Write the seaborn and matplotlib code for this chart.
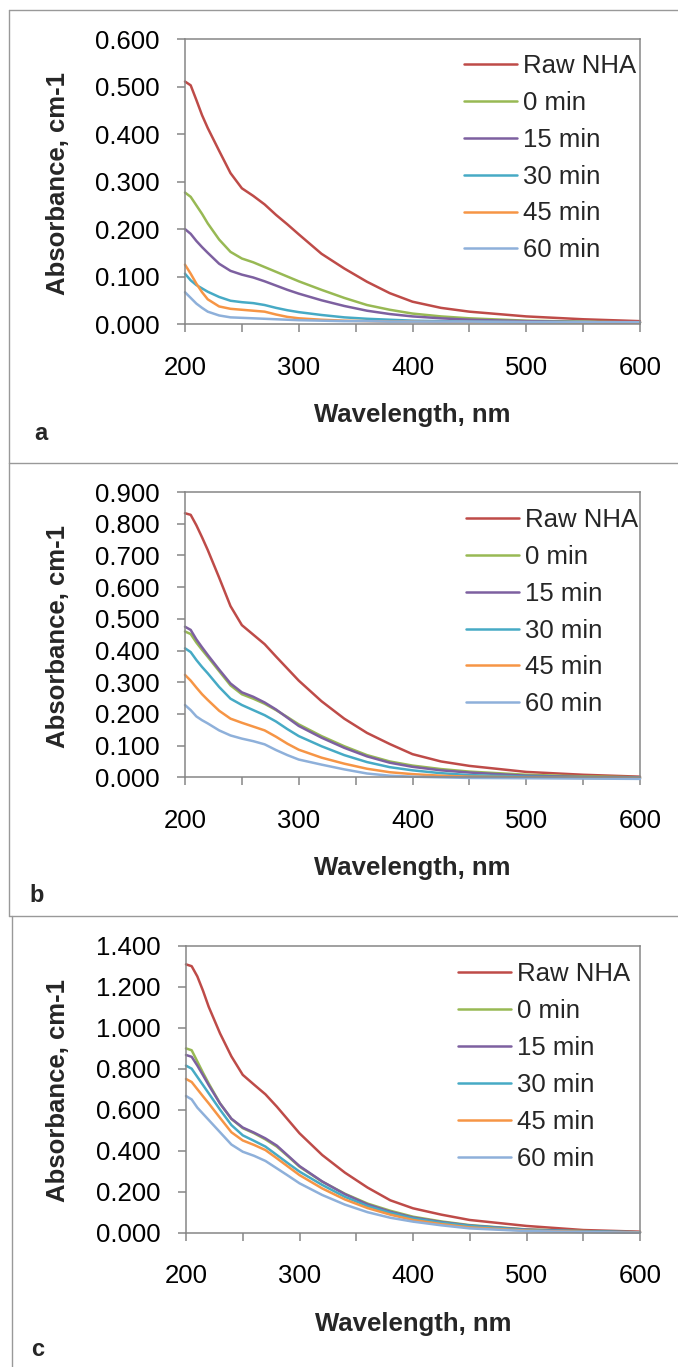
import matplotlib
matplotlib.use("Agg")
import numpy as np
import pandas as pd
import matplotlib.pyplot as plt
from matplotlib.lines import Line2D
from matplotlib.ticker import MultipleLocator, FormatStrFormatter
import seaborn as sns

# ---------------------------------------------------------------- data
wavelength = [200, 205, 210, 215, 220, 230, 240, 250, 260, 270, 280, 290, 300,
              320, 340, 360, 380, 400, 425, 450, 500, 550, 600]
series_names = ["Raw NHA", "0 min", "15 min", "30 min", "45 min", "60 min"]
series_colors = ["#BE4B48", "#98B954", "#7D60A0", "#46AAC5", "#F69545", "#8EB0DA"]

# panel a
a_raw = [0.511, 0.503, 0.472, 0.440, 0.413, 0.365, 0.318, 0.286, 0.270, 0.252, 0.230, 0.210, 0.189,
         0.148, 0.117, 0.089, 0.065, 0.047, 0.034, 0.026, 0.016, 0.010, 0.006]
a_0 = [0.277, 0.268, 0.250, 0.232, 0.212, 0.178, 0.152, 0.138, 0.130, 0.120, 0.110, 0.100, 0.090,
       0.072, 0.055, 0.040, 0.030, 0.022, 0.016, 0.012, 0.007, 0.005, 0.003]
a_15 = [0.200, 0.190, 0.175, 0.162, 0.150, 0.127, 0.112, 0.104, 0.098, 0.090, 0.081, 0.072, 0.064,
        0.050, 0.038, 0.028, 0.021, 0.016, 0.012, 0.009, 0.006, 0.004, 0.003]
a_30 = [0.106, 0.092, 0.082, 0.075, 0.068, 0.057, 0.049, 0.046, 0.044, 0.040, 0.034, 0.029, 0.025,
        0.019, 0.014, 0.011, 0.009, 0.007, 0.006, 0.005, 0.004, 0.004, 0.003]
a_45 = [0.125, 0.106, 0.085, 0.067, 0.052, 0.037, 0.032, 0.030, 0.028, 0.026, 0.020, 0.015, 0.012,
        0.009, 0.007, 0.006, 0.005, 0.005, 0.004, 0.004, 0.004, 0.003, 0.003]
a_60 = [0.067, 0.055, 0.043, 0.034, 0.026, 0.018, 0.014, 0.013, 0.012, 0.011, 0.010, 0.009, 0.008,
        0.007, 0.006, 0.006, 0.005, 0.005, 0.005, 0.005, 0.004, 0.004, 0.004]

# panel b
b_raw = [0.833, 0.828, 0.795, 0.757, 0.717, 0.630, 0.540, 0.480, 0.450, 0.420, 0.381, 0.343, 0.305,
         0.240, 0.185, 0.140, 0.105, 0.073, 0.050, 0.036, 0.017, 0.008, 0.002]
b_0 = [0.460, 0.452, 0.425, 0.402, 0.380, 0.335, 0.290, 0.262, 0.248, 0.232, 0.212, 0.190, 0.167,
       0.130, 0.098, 0.070, 0.050, 0.037, 0.026, 0.018, 0.008, 0.003, 0.000]
b_15 = [0.475, 0.465, 0.435, 0.410, 0.386, 0.340, 0.296, 0.268, 0.254, 0.236, 0.214, 0.188, 0.162,
        0.125, 0.093, 0.066, 0.046, 0.033, 0.022, 0.015, 0.005, 0.001, -0.002]
b_30 = [0.407, 0.395, 0.370, 0.348, 0.328, 0.285, 0.248, 0.228, 0.212, 0.196, 0.176, 0.152, 0.130,
        0.098, 0.070, 0.048, 0.032, 0.022, 0.013, 0.007, 0.002, 0.000, -0.002]
b_45 = [0.323, 0.305, 0.283, 0.262, 0.244, 0.210, 0.185, 0.172, 0.160, 0.148, 0.128, 0.106, 0.087,
        0.062, 0.043, 0.027, 0.016, 0.010, 0.005, 0.002, 0.000, -0.002, -0.003]
b_60 = [0.228, 0.212, 0.192, 0.180, 0.170, 0.148, 0.132, 0.122, 0.114, 0.104, 0.086, 0.070, 0.056,
        0.040, 0.025, 0.012, 0.005, 0.002, 0.000, -0.002, -0.003, -0.004, -0.005]

# panel c
c_raw = [1.309, 1.300, 1.250, 1.180, 1.102, 0.972, 0.860, 0.770, 0.722, 0.675, 0.615, 0.550, 0.485,
         0.379, 0.293, 0.220, 0.158, 0.119, 0.088, 0.062, 0.033, 0.013, 0.005]
c_0 = [0.899, 0.890, 0.835, 0.780, 0.728, 0.631, 0.555, 0.510, 0.485, 0.455, 0.420, 0.372, 0.322,
       0.249, 0.190, 0.142, 0.107, 0.078, 0.055, 0.037, 0.016, 0.008, 0.002]
c_15 = [0.867, 0.858, 0.815, 0.768, 0.720, 0.630, 0.556, 0.513, 0.488, 0.460, 0.425, 0.375, 0.325,
        0.250, 0.188, 0.138, 0.102, 0.074, 0.052, 0.035, 0.015, 0.007, 0.002]
c_30 = [0.815, 0.800, 0.760, 0.720, 0.680, 0.600, 0.525, 0.475, 0.448, 0.420, 0.379, 0.338, 0.298,
        0.233, 0.175, 0.130, 0.097, 0.070, 0.049, 0.033, 0.013, 0.006, 0.002]
c_45 = [0.750, 0.735, 0.700, 0.665, 0.631, 0.560, 0.490, 0.450, 0.428, 0.403, 0.363, 0.322, 0.281,
        0.216, 0.162, 0.120, 0.088, 0.062, 0.042, 0.026, 0.010, 0.004, 0.000]
c_60 = [0.667, 0.650, 0.610, 0.580, 0.550, 0.490, 0.430, 0.395, 0.375, 0.350, 0.314, 0.278, 0.241,
        0.184, 0.137, 0.100, 0.073, 0.054, 0.036, 0.021, 0.008, 0.003, 0.000]

panel_letters = ["a", "b", "c"]
y_tops = [0.6, 0.9, 1.4]
y_steps = [0.1, 0.1, 0.2]
x_label = "Wavelength, nm"
y_label = "Absorbance, cm-1"

# ---------------------------------------------------------------- style
sns.set_style("white")
plt.rcParams["font.family"] = ["Liberation Sans", "DejaVu Sans"]

W, H = 678, 1367
fig = plt.figure(figsize=(W / 100, H / 100), dpi=100)

AXIS_GREY = "#868686"
FS = 18.5

# pixel geometry of each panel: (axes left, axes top, axes right, axes bottom)
axes_px = [(185, 39.3, 640, 324.0), (185, 492.0, 640, 777.3), (186, 945.7, 640, 1232.7)]
legend_anchor = [(0.613, 0.948), (0.618, 0.944), (0.600, 0.942)]
xlabel_y = [415, 868, 1324]
ylabel_x = 58
letter_pos = [(41, 433), (37, 895), (38, 1350)]


def long_form(cols):
    frames = []
    for name, vals in zip(series_names, cols):
        frames.append(pd.DataFrame({"Wavelength": wavelength, "Absorbance": vals, "Series": name}))
    return pd.concat(frames, ignore_index=True)


panel_data = [
    [a_raw, a_0, a_15, a_30, a_45, a_60],
    [b_raw, b_0, b_15, b_30, b_45, b_60],
    [c_raw, c_0, c_15, c_30, c_45, c_60],
]

for i, cols in enumerate(panel_data):
    l, t, r, b = axes_px[i]
    ax = fig.add_axes([l / W, 1 - b / H, (r - l) / W, (b - t) / H])
    df = long_form(cols)
    sns.lineplot(data=df, x="Wavelength", y="Absorbance", hue="Series",
                 hue_order=series_names, palette=series_colors, sort=False,
                 linewidth=1.8, ax=ax, legend="full")
    for ln in ax.get_lines():
        ln.set_clip_on(False)
        ln.set_solid_capstyle("round")
        ln.set_solid_joinstyle("round")

    ax.set_xlim(200, 600)
    ax.set_ylim(0, y_tops[i])
    ax.set_xlabel("")
    ax.set_ylabel("")
    ax.xaxis.set_major_locator(MultipleLocator(100))
    ax.xaxis.set_minor_locator(MultipleLocator(50))
    ax.yaxis.set_major_locator(MultipleLocator(y_steps[i]))
    ax.yaxis.set_major_formatter(FormatStrFormatter("%.3f"))

    for sp in ax.spines.values():
        sp.set_color(AXIS_GREY)
        sp.set_linewidth(1.1)
        sp.set_visible(True)
    ax.tick_params(axis="both", which="both", direction="out", color=AXIS_GREY,
                   width=1.1, length=5.8, labelsize=FS, labelcolor="black")
    ax.tick_params(axis="x", which="both", bottom=True, top=False, pad=17)
    ax.tick_params(axis="y", which="both", left=True, right=False, pad=12.5)

    sns.move_legend(ax, "upper left", bbox_to_anchor=legend_anchor[i], frameon=False,
                    title=None, fontsize=FS, handlelength=2.06, handletextpad=0.23,
                    labelspacing=0.5, borderpad=0, borderaxespad=0)
    for h in ax.get_legend().legend_handles:
        h.set_linewidth(1.8)

    # axis titles
    fig.text(((l + r) / 2) / W, 1 - xlabel_y[i] / H, x_label, ha="center", va="center",
             fontsize=FS, fontweight="bold")
    fig.text(ylabel_x / W, 1 - ((t + b) / 2 + 1.5) / H, y_label, ha="center", va="center",
             rotation=90, fontsize=FS, fontweight="bold")

    lx, ly = letter_pos[i]
    fig.text(lx / W, 1 - ly / H, panel_letters[i], ha="center", va="center",
             fontsize=17, fontweight="bold")

# panel frames
BORDER = "#999999"


def frame_line(x0, y0, x1, y1):
    fig.add_artist(Line2D([x0 / W, x1 / W], [1 - y0 / H, 1 - y1 / H],
                          transform=fig.transFigure, color=BORDER, linewidth=1.0))


frame_line(9, 10, W, 10)
frame_line(9, 10, 9, 463)
frame_line(9, 463, W, 463)
frame_line(9, 463, 9, 916)
frame_line(9, 916, W, 916)
frame_line(12, 916, 12, H)

fig.savefig("out.png", dpi=100)
